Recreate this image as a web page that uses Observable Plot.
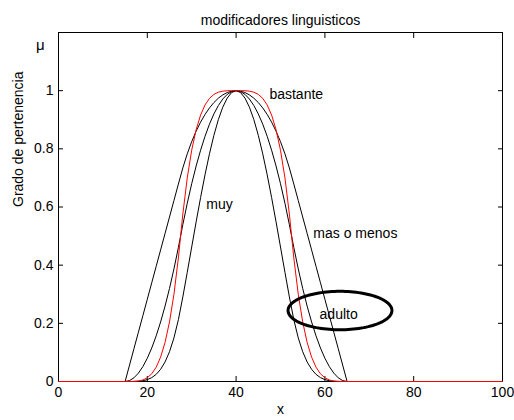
<!DOCTYPE html>
<html><head><meta charset="utf-8">
<script src="https://cdn.jsdelivr.net/npm/d3@7"></script>
<script src="https://cdn.jsdelivr.net/npm/@observablehq/plot@0.6"></script>
<style>
body{margin:0;background:#fff;}
#chart{width:514px;height:420px;}
</style></head><body><div id="chart"></div>
<script>
// x samples (support of the fuzzy set plus the ends of the universe)
const xs = [0,15,16,17,18,19,20,21,22,23,24,25,26,27,28,29,30,31,32,33,34,35,36,37,38,39,40,
  41,42,43,44,45,46,47,48,49,50,51,52,53,54,55,56,57,58,59,60,61,62,63,64,65,100];

const adulto = [0,0,.0032,.0128,.0288,.0512,.08,.1152,.1568,.2048,.2592,.32,.3872,.4608,.5392,.6128,.68,.7408,.7952,.8432,.8848,.92,.9488,.9712,.9872,.9968,1,
  .9968,.9872,.9712,.9488,.92,.8848,.8432,.7952,.7408,.68,.6128,.5392,.4608,.3872,.32,.2592,.2048,.1568,.1152,.08,.0512,.0288,.0128,.0032,0,0];

const muy = [0,0,.00001,.00016,.00083,.00262,.0064,.01327,.02459,.04194,.06718,.1024,.14992,.21234,.29074,.37552,.4624,.54878,.63234,.71099,.78287,.8464,.90022,.94323,.97456,.99361,1,
  .99361,.97456,.94323,.90022,.8464,.78287,.71099,.63234,.54878,.4624,.37552,.29074,.21234,.14992,.1024,.06718,.04194,.02459,.01327,.0064,.00262,.00083,.00016,.00001,0,0];

const masOMenos = [0,0,.05657,.11314,.16971,.22627,.28284,.33941,.39598,.45255,.50912,.56569,.62225,.67882,.7343,.78282,.82462,.8607,.89174,.91826,.94064,.95917,.97406,.9855,.99358,.9984,1,
  .9984,.99358,.9855,.97406,.95917,.94064,.91826,.89174,.8607,.82462,.78282,.7343,.67882,.62225,.56569,.50912,.45255,.39598,.33941,.28284,.22627,.16971,.11314,.05657,0,0];

const bastante = [0,0,.00002,.00033,.00166,.00524,.0128,.02654,.04917,.08389,.13437,.2048,.29985,.42467,.57533,.70015,.7952,.86563,.91611,.95083,.97346,.9872,.99476,.99834,.99967,.99998,1,
  .99998,.99967,.99834,.99476,.9872,.97346,.95083,.91611,.86563,.7952,.70015,.57533,.42467,.29985,.2048,.13437,.08389,.04917,.02654,.0128,.00524,.00166,.00033,.00002,0,0];

const xTicks = [0,20,40,60,80,100];
const yTicks = [0,0.2,0.4,0.6,0.8,1];
const yTickLabels = ["0","0.2","0.4","0.6","0.8","1"];

const title = "modificadores linguisticos";
const xLabel = "x";
const yLabel = "Grado de pertenencia";

// curve annotations (text, anchor x, anchor y in data units)
const labelText = ["bastante","muy","mas o menos","adulto"];
const labelX = [47.5, 33.3, 57.4, 58.8];
const labelY = [0.986, 0.608, 0.509, 0.23];

// mu symbol beside the y axis
const muText = ["μ"];
const muX = [-4.1];
const muY = [1.155];

// ellipse around "adulto": centre and radii in data units
const ellipseCx = 63.4, ellipseCy = 0.244, ellipseRx = 11.7, ellipseRy = 0.066;

const toRows = ys => xs.map((x, i) => ({x, y: ys[i]}));
const ellipse = d3.range(0, 121).map(i => {
  const a = i / 120 * 2 * Math.PI;
  return {x: ellipseCx + ellipseRx * Math.cos(a), y: ellipseCy + ellipseRy * Math.sin(a)};
});
const labels = labelText.map((t, i) => ({t, x: labelX[i], y: labelY[i]}));
const mus = muText.map((t, i) => ({t, x: muX[i], y: muY[i]}));

const font = "'Liberation Sans', Arial, Helvetica, sans-serif";

const chart = Plot.plot({
  width: 514, height: 420,
  marginLeft: 58, marginRight: 12, marginTop: 32, marginBottom: 39,
  style: {fontFamily: font, fontSize: "14px", background: "white", color: "black", overflow: "visible"},
  x: {domain: [0, 100], label: null},
  y: {domain: [0, 1.2], label: null},
  marks: [
    Plot.frame({stroke: "black", strokeWidth: 1}),
    Plot.axisX({anchor: "bottom", ticks: xTicks, tickSize: -5, tickPadding: 11, label: null, fontSize: 14}),
    Plot.axisX({anchor: "top", ticks: xTicks, tickSize: -5, tickFormat: () => "", label: null}),
    Plot.axisY({anchor: "left", ticks: yTicks, tickSize: -5, tickPadding: 10, label: null, fontSize: 14,
      tickFormat: d => yTickLabels[yTicks.indexOf(d)]}),
    Plot.axisY({anchor: "right", ticks: yTicks, tickSize: -5, tickFormat: () => "", label: null}),
    Plot.line(toRows(adulto), {x: "x", y: "y", stroke: "black", strokeWidth: 1}),
    Plot.line(toRows(muy), {x: "x", y: "y", stroke: "black", strokeWidth: 1}),
    Plot.line(toRows(masOMenos), {x: "x", y: "y", stroke: "black", strokeWidth: 1}),
    Plot.line(toRows(bastante), {x: "x", y: "y", stroke: "red", strokeWidth: 1}),
    Plot.line(ellipse, {x: "x", y: "y", stroke: "black", strokeWidth: 3}),
    Plot.text(labels, {x: "x", y: "y", text: "t", textAnchor: "start", fill: "black", fontSize: 14}),
    Plot.text(mus, {x: "x", y: "y", text: "t", textAnchor: "middle", fill: "black", fontSize: 15}),
    Plot.text([title], {frameAnchor: "top", dy: -17, text: d => d, fontSize: 14, fill: "black"}),
    Plot.text([xLabel], {frameAnchor: "bottom", dy: 32, text: d => d, fontSize: 14, fill: "black"}),
    Plot.text([yLabel], {frameAnchor: "left", dx: -40, rotate: -90, text: d => d, fontSize: 14, fill: "black"})
  ]
});
document.getElementById("chart").appendChild(chart);
</script></body></html>
